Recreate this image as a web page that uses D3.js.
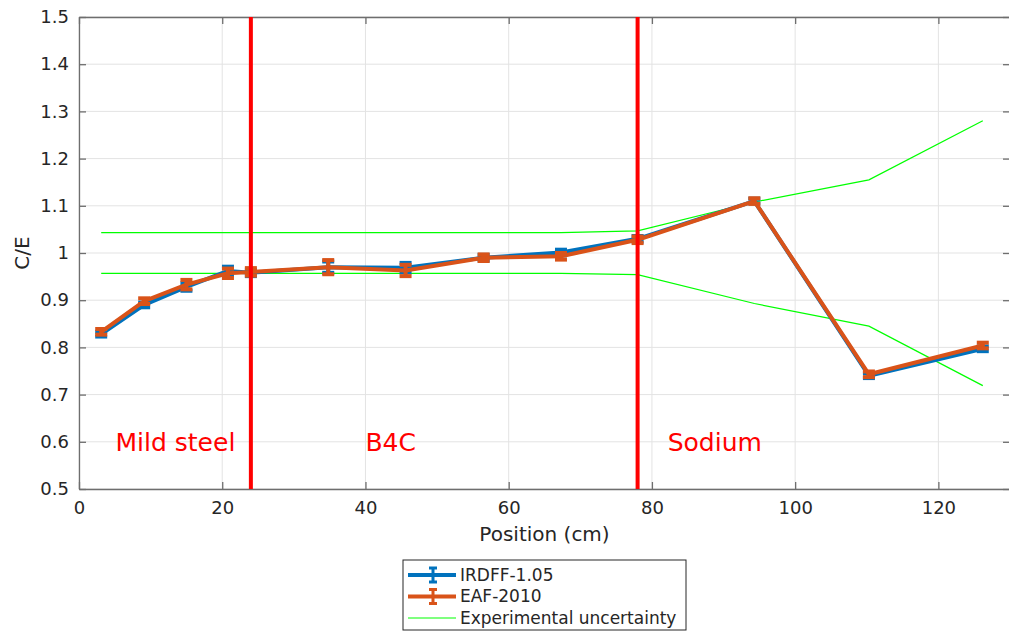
<!DOCTYPE html>
<html>
<head>
<meta charset="utf-8">
<script src="https://cdn.jsdelivr.net/npm/d3@7"></script>
<style>
  body { margin: 0; background: #fff; }
  text { font-family: "DejaVu Sans", sans-serif; }
</style>
</head>
<body>
<div id="chart"></div>
<script>
// data
const positions = [3.1, 9.1, 15, 20.8, 24, 34.8, 45.6, 56.5, 67.3, 78, 94.3, 110.3, 126.2];
const irdff = [0.828, 0.890, 0.928, 0.962, 0.958, 0.970, 0.969, 0.990, 1.001, 1.030, 1.110, 0.740, 0.797];
const irdffErr = [0.005, 0.005, 0.008, 0.009, 0.007, 0.012, 0.010, 0.006, 0.006, 0.006, 0.005, 0.005, 0.005];
const eaf = [0.833, 0.898, 0.933, 0.957, 0.960, 0.970, 0.963, 0.990, 0.993, 1.028, 1.110, 0.743, 0.804];
const eafErr = [0.006, 0.006, 0.010, 0.010, 0.008, 0.015, 0.012, 0.007, 0.007, 0.007, 0.006, 0.006, 0.006];
const uncUpper = [1.043, 1.043, 1.043, 1.043, 1.043, 1.043, 1.043, 1.043, 1.043, 1.047, 1.108, 1.155, 1.280];
const uncLower = [0.957, 0.957, 0.957, 0.957, 0.957, 0.957, 0.957, 0.957, 0.957, 0.954, 0.893, 0.845, 0.719];
const boundaries = [24, 78];
const regions = [{name: 'Mild steel', x: 5.1}, {name: 'B4C', x: 40}, {name: 'Sodium', x: 82.2}];
const regionY = 0.6;
const xTicks = [0, 20, 40, 60, 80, 100, 120];
const yTicks = [0.5, 0.6, 0.7, 0.8, 0.9, 1.0, 1.1, 1.2, 1.3, 1.4, 1.5];
const legendItems = ['IRDFF-1.05', 'EAF-2010', 'Experimental uncertainty'];

const width = 1009, height = 633;
const margin = {top: 17, right: -1, bottom: 144, left: 79};
const plotWidth = width - margin.left - margin.right;
const plotHeight = height - margin.top - margin.bottom;

const blue = '#0072BD', orange = '#D95319', green = '#00ff00', axisColor = '#262626';

const svg = d3.select('#chart').append('svg')
  .attr('width', width).attr('height', height);
const g = svg.append('g')
  .attr('transform', 'translate('+margin.left+','+margin.top+')');

const x = d3.scaleLinear().domain([0, 130]).range([0, plotWidth]);
const y = d3.scaleLinear().domain([0.5, 1.5]).range([plotHeight, 0]);

// grid
g.selectAll('.xgrid').data(xTicks).enter().append('line')
  .attr('x1', d => x(d)).attr('x2', d => x(d))
  .attr('y1', 0).attr('y2', plotHeight)
  .attr('stroke', '#e3e3e3').attr('stroke-width', 1);
g.selectAll('.ygrid').data(yTicks).enter().append('line')
  .attr('x1', 0).attr('x2', plotWidth)
  .attr('y1', d => y(d)).attr('y2', d => y(d))
  .attr('stroke', '#e3e3e3').attr('stroke-width', 1);

// axes (ticks inward, box on)
const fmtY = d => d === 1 ? '1' : d3.format('.1f')(d);
const xAxis = g.append('g').attr('transform', 'translate(0,'+plotHeight+')')
  .call(d3.axisBottom(x).tickValues(xTicks).tickSizeInner(-7).tickSizeOuter(0).tickPadding(12));
const xAxisTop = g.append('g')
  .call(d3.axisTop(x).tickValues(xTicks).tickSizeInner(-7).tickSizeOuter(0).tickFormat(''));
const yAxis = g.append('g')
  .call(d3.axisLeft(y).tickValues(yTicks).tickFormat(fmtY).tickSizeInner(-7).tickSizeOuter(0).tickPadding(10));
const yAxisRight = g.append('g').attr('transform', 'translate('+plotWidth+',0)')
  .call(d3.axisRight(y).tickValues(yTicks).tickSizeInner(-7).tickSizeOuter(0).tickFormat(''));
[xAxis, xAxisTop, yAxis, yAxisRight].forEach(a => {
  a.select('.domain').attr('stroke', '#6e6e6e').attr('stroke-width', 1.3);
  a.selectAll('.tick line').attr('stroke', '#6e6e6e').attr('stroke-width', 1.3);
  a.selectAll('.tick text').attr('fill', axisColor).style('font-size', '18px');
});

svg.append('text')
  .text('Position (cm)')
  .attr('x', margin.left + x(65)).attr('y', 541)
  .attr('text-anchor', 'middle').attr('fill', axisColor).style('font-size', '20px');
svg.append('text')
  .text('C/E')
  .attr('transform', 'translate(29,'+(margin.top + y(1))+') rotate(-90)')
  .attr('text-anchor', 'middle').attr('fill', axisColor).style('font-size', '20px');

// experimental uncertainty band edges
const line = d3.line().x((d, i) => x(positions[i])).y(d => y(d));
[uncUpper, uncLower].forEach(arr => {
  g.append('path').datum(arr).attr('d', line)
    .attr('fill', 'none').attr('stroke', green).attr('stroke-width', 1.2);
});

// series with error bars
function drawSeries(vals, errs, color) {
  g.append('path').datum(vals).attr('d', line)
    .attr('fill', 'none').attr('stroke', color).attr('stroke-width', 4)
    .attr('stroke-linejoin', 'round');
  const eb = g.append('g').selectAll('g').data(vals).enter().append('g');
  eb.append('line')
    .attr('x1', (d, i) => x(positions[i])).attr('x2', (d, i) => x(positions[i]))
    .attr('y1', (d, i) => y(d - errs[i])).attr('y2', (d, i) => y(d + errs[i]))
    .attr('stroke', color).attr('stroke-width', 4);
  [-1, 1].forEach(s => {
    eb.append('line')
      .attr('x1', (d, i) => x(positions[i]) - 6).attr('x2', (d, i) => x(positions[i]) + 6)
      .attr('y1', (d, i) => y(d + s*errs[i])).attr('y2', (d, i) => y(d + s*errs[i]))
      .attr('stroke', color).attr('stroke-width', 4);
  });
}
drawSeries(irdff, irdffErr, blue);
drawSeries(eaf, eafErr, orange);

// material boundaries
g.selectAll('.boundary').data(boundaries).enter().append('line')
  .attr('x1', d => x(d)).attr('x2', d => x(d))
  .attr('y1', 0).attr('y2', plotHeight)
  .attr('stroke', '#ff0000').attr('stroke-width', 4);

g.selectAll('.region').data(regions).enter().append('text')
  .text(d => d.name)
  .attr('x', d => x(d.x)).attr('y', y(regionY))
  .attr('dy', '0.35em')
  .attr('fill', '#ff0000').style('font-size', '25px');

// legend
const legend = svg.append('g').attr('transform', 'translate(403,560)');
legend.append('rect')
  .attr('width', 283).attr('height', 70)
  .attr('fill', '#fff').attr('stroke', '#262626').attr('stroke-width', 1);
const legendColors = [blue, orange, green];
const li = legend.selectAll('.item').data(legendItems).enter().append('g')
  .attr('transform', (d, i) => 'translate(0,'+(15 + i*21.5)+')');
li.append('line')
  .attr('x1', 5).attr('x2', 53).attr('y1', 0).attr('y2', 0)
  .attr('stroke', (d, i) => legendColors[i])
  .attr('stroke-width', (d, i) => i < 2 ? 4 : 1.2);
li.filter((d, i) => i < 2).each(function(d, i) {
  const s = d3.select(this);
  s.append('line').attr('x1', 30).attr('x2', 30).attr('y1', -7).attr('y2', 7)
    .attr('stroke', legendColors[i]).attr('stroke-width', 3);
  [-7, 7].forEach(v => s.append('line').attr('x1', 26).attr('x2', 34).attr('y1', v).attr('y2', v)
    .attr('stroke', legendColors[i]).attr('stroke-width', 3));
});
li.append('text')
  .text(d => d)
  .attr('x', 57).attr('y', 0).attr('dy', '0.35em')
  .attr('fill', axisColor).style('font-size', '17px');
</script>
</body>
</html>
